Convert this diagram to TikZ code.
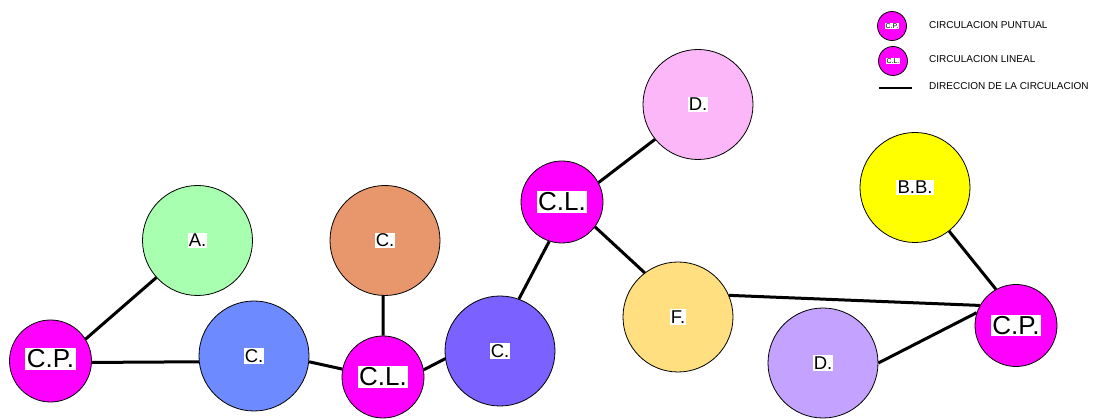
\documentclass[tikz,border=0pt]{standalone}
\usepackage{fontspec}
\setmainfont{Liberation Sans}
\definecolor{mag}{HTML}{FF00FF}
\definecolor{cgreen}{HTML}{A8FFB0}
\definecolor{cblue}{HTML}{6E8AFF}
\definecolor{corange}{HTML}{E8976C}
\definecolor{cviolet}{HTML}{7B61FF}
\definecolor{cpink}{HTML}{FBB7F7}
\definecolor{cyellowf}{HTML}{FFDF80}
\definecolor{cyellow}{HTML}{FFFF00}
\definecolor{clav}{HTML}{C3A3FF}
\tikzset{
  room/.style={circle,draw=black,line width=0.8pt,minimum size=110pt,inner sep=0pt},
  circ/.style={circle,draw=black,line width=0.8pt,fill=mag,minimum size=82pt,inner sep=0pt},
  legc/.style={circle,draw=black,line width=0.8pt,fill=mag,minimum size=29pt,inner sep=0pt},
  lbl/.style={fill=white,inner sep=1.2pt,font=\fontsize{18.5}{18.5}\selectfont},
  biglbl/.style={fill=white,inner sep=1.5pt,font=\fontsize{26}{26}\selectfont},
  tinylbl/.style={fill=white,inner sep=0.6pt,font=\fontsize{7}{7}\selectfont},
  legtxt/.style={anchor=west,inner sep=0pt,font=\fontsize{10}{10}\selectfont},
  conn/.style={line width=3pt},
}
\begin{document}
\begin{tikzpicture}[x=1pt,y=-1pt]
\useasboundingbox (0,0) rectangle (1096,419);
% rooms
\node[room,fill=cgreen] (ra) at (197.5,240.5) {};
\node[room,fill=cblue] (rcb) at (254,356) {};
\node[room,fill=corange] (rco) at (385,240.5) {};
\node[room,fill=cviolet] (rcv) at (500,351) {};
\node[room,fill=cpink] (rdp) at (698,104.5) {};
\node[room,fill=cyellowf] (rf) at (678,317) {};
\node[room,fill=cyellow] (rbb) at (915,187.5) {};
\node[room,fill=clav] (rdl) at (823,363) {};
% circulation nodes
\node[circ] (cp1) at (50.5,361) {};
\node[circ] (clb) at (383,377) {};
\node[circ] (clu) at (562,202) {};
\node[circ] (cpr) at (1016,325.5) {};
% connectors
\draw[conn] (cp1.32) -- (ra.222);
\draw[conn] (cp1.358) -- (rcb.186);
\draw[conn] (rcb.354) -- (clb.169);
\draw[conn] (rco.268) -- (clb.north);
\draw[conn] (clb.10) -- (rcv.188);
\draw[conn] (rcv.70) -- (clu.252);
\draw[conn] (clu.28) -- (rdp.219);
\draw[conn] (clu.323) -- (rf.127);
\draw[conn] (rf.23) -- (cpr.151);
\draw[conn] (rbb.308) -- (cpr.119);
\draw[conn] (rdl.0) -- (cpr.162);
% labels
\node[lbl] (la) at (ra) {A.};
\node[lbl] (lcb) at (rcb) {C.};
\node[lbl] (lco) at (rco) {C.};
\node[lbl] (lcv) at (rcv) {C.};
\node[lbl] (ldp) at (rdp) {D.};
\node[lbl] (lf) at (rf) {F.};
\node[lbl] (lbb) at (rbb) {B.B.};
\node[lbl] (ldl) at (rdl) {D.};
\node[biglbl] (lcp1) at ([yshift=2pt]cp1) {C.P.};
\node[biglbl] (lclb) at ([yshift=0pt]clb) {C.L.};
\node[biglbl] (lclu) at ([yshift=0pt]clu) {C.L.};
\node[biglbl] (lcpr) at ([yshift=0pt]cpr) {C.P.};
% legend
\node[legc] (lg1) at (892,26) {};
\node[tinylbl] (lg1t) at (lg1) {C.P.};
\node[legc] (lg2) at (893,61) {};
\node[tinylbl] (lg2t) at (lg2) {C.L.};
\coordinate (ll1) at (879,88);
\coordinate (ll2) at (912,88);
\draw[line width=2pt] (ll1) -- (ll2);
\node[legtxt] (t1) at (929,25) {CIRCULACION PUNTUAL};
\node[legtxt] (t2) at (929,59) {CIRCULACION LINEAL};
\node[legtxt] (t3) at (929,86) {DIRECCION DE LA CIRCULACION};
\end{tikzpicture}
\end{document}
